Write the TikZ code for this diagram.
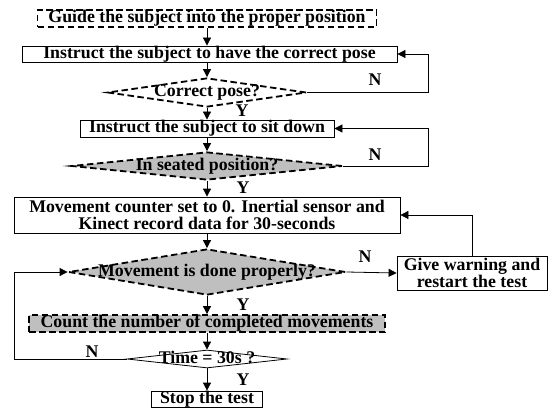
\documentclass[tikz,border=0pt]{standalone}
\usepackage{fontspec}
\setmainfont{Liberation Serif}
\usetikzlibrary{shapes.geometric,arrows.meta}

\tikzset{
  every node/.style={font=\fontsize{17.8}{16.5}\selectfont\bfseries},
  single/.style={text height=11.5pt, text depth=3pt},
  process/.style={draw, line width=0.8pt, fill=white, inner sep=0pt},
  dashbox/.style={draw, line width=1.8pt, dash pattern=on 6.5pt off 3.5pt, inner sep=0pt},
  shaded/.style={fill=black!25},
  decision/.style={diamond, inner sep=0pt, single},
  flow/.style={-{Triangle[length=8pt,width=8pt]}, line width=0.8pt},
  lbl/.style={inner sep=0pt}
}
\newcommand{\dtext}[1]{\makebox[0pt]{#1}}

\begin{document}
\begin{tikzpicture}[x=1pt,y=-1pt]
\useasboundingbox (0,0) rectangle (551,409);

% main column
\node[dashbox, single, minimum width=339, minimum height=17] (guide) at (207,18.5) {Guide the subject into the proper position};
\node[process, single, minimum width=375, minimum height=16] (pose) at (209.5,54) {Instruct the subject to have the correct pose};
\node[decision, dashbox, minimum width=199, minimum height=29] (correct) at (207,92.5) {\dtext{Correct pose?}};
\node[process, single, minimum width=254, minimum height=17] (sit) at (207,128.5) {Instruct the subject to sit down};
\node[decision, dashbox, shaded, minimum width=271, minimum height=28] (seated) at (207,166) {\dtext{In seated position?}};
\node[process, minimum width=386, minimum height=36, align=center] (counter) at (207,215) {Movement counter set to 0. Inertial sensor and\\Kinect record data for 30-seconds};
\node[decision, dashbox, shaded, minimum width=277, minimum height=46] (move) at (207,272) {\dtext{Movement is done properly?}};
\node[dashbox, single, shaded, minimum width=356, minimum height=17] (count) at (207,323.5) {Count the number of completed movements};
\node[decision, draw, line width=0.8pt, fill=white, minimum width=160, minimum height=18] (time) at (207,359) {\dtext{Time = 30s ?}};
\node[process, single, minimum width=111, minimum height=16] (stop) at (207,399) {Stop the test};

% side box
\node[process, minimum width=150, minimum height=34, align=center] (warn) at (472,273) {Give warning and\\restart the test};

% loop rails
\coordinate (railR) at (428,0);
\coordinate (railL) at (14,0);

% straight arrows
\draw[flow] (guide.south) -- (guide.south |- pose.north);
\draw[flow] (pose.south -| guide.south) -- (correct.north);
\draw[flow] (correct.south) -- (sit.north);
\draw[flow] (sit.south) -- (seated.north);
\draw[flow] (seated.south) -- (counter.north);
\draw[flow] (counter.south) -- (move.north);
\draw[flow] (move.south) -- (count.north);
\draw[flow] (count.south) -- (time.north);
\draw[flow] (time.south) -- (stop.north);

% loops
\draw[flow] (correct.east) -- (correct.east -| railR) |- (pose.east);
\draw[flow] (seated.east) -- (seated.east -| railR) |- (sit.east);
\draw[flow] (move.east) -- (warn.west);
\draw[flow] (warn.north) |- (counter.east);
\draw[flow] (time.west) -- (time.west -| railL) |- (move.west);

% labels
\node[lbl] (n1) at (375,80) {N};
\node[lbl] (y1) at (242,110.5) {Y};
\node[lbl] (n2) at (375,155) {N};
\node[lbl] (y2) at (243,187.5) {Y};
\node[lbl] (n3) at (365,257) {N};
\node[lbl] (y3) at (243,304.5) {Y};
\node[lbl] (n4) at (92,352) {N};
\node[lbl] (y4) at (243,380) {Y};
\end{tikzpicture}
\end{document}
